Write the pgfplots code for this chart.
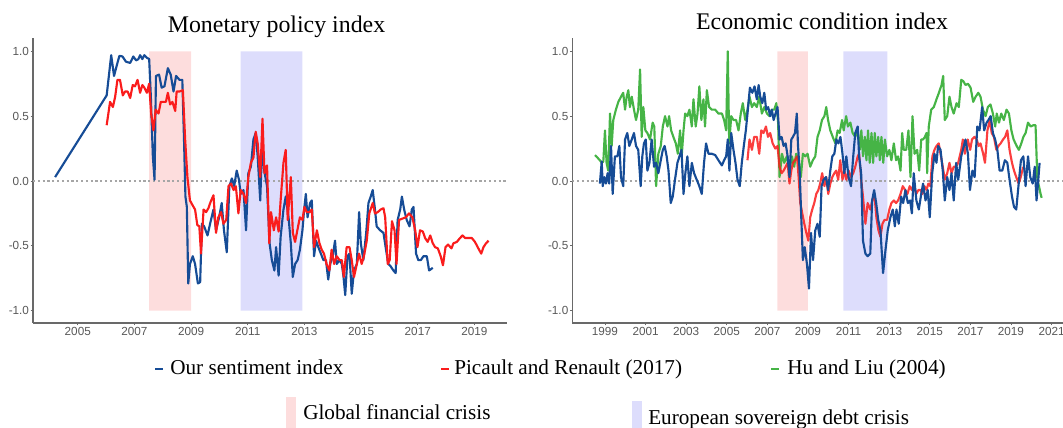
\documentclass[border=0pt]{standalone}
\usepackage{pgfplots}
\pgfplotsset{compat=1.18}
\usepackage{fontspec}
\setmainfont{Liberation Serif}
\newfontfamily\arialf{Liberation Sans}
\definecolor{cblue}{RGB}{22,76,150}
\definecolor{cred}{RGB}{250,28,28}
\definecolor{cgreen}{RGB}{70,180,70}
\definecolor{cpink}{RGB}{253,221,221}
\definecolor{clav}{RGB}{221,221,252}
\definecolor{axgray}{RGB}{105,105,105}
\definecolor{labgray}{RGB}{88,88,88}
\pgfplotsset{
  myaxis/.style={
    scale only axis,
    axis x line*=bottom, axis y line*=left,
    axis line style={draw=axgray, line width=0.95pt},
    tick style={draw=axgray, line width=0.6pt},
    tick align=outside, major tick length=1.8pt,
    tick label style={font=\arialf\fontsize{8.8}{10}\selectfont, text=labgray},
    ymin=-1.095, ymax=1.10,
    ytick={-1,-0.5,0,0.5,1}, yticklabels={-1.0,-0.5,0.0,0.5,1.0},
    yticklabel style={inner xsep=1pt},
    xticklabel style={inner ysep=1.6pt},
    height=213.5pt,
    every axis plot/.append style={line width=1.6pt, line join=round},
  }
}
\begin{document}
\begin{tikzpicture}
\useasboundingbox (0,0) rectangle (797.25pt,321pt);
% ---------------- Left: Monetary policy index
\begin{axis}[myaxis, at={(24.75pt,78.75pt)}, anchor=south west,
  width=355.5pt, xmin=2003.42, xmax=2020.15,
  xtick={2005,2007,2009,2011,2013,2015,2017,2019},
  xticklabels={2005,2007,2009,2011,2013,2015,2017,2019}]
\addplot[fill=cpink, draw=none, forget plot] coordinates {(2007.52,-1) (2009.0,-1) (2009.0,1) (2007.52,1)} \closedcycle;
\addplot[fill=clav, draw=none, forget plot] coordinates {(2010.75,-1) (2012.93,-1) (2012.93,1) (2010.75,1)} \closedcycle;
\addplot[gray!70, dotted, line width=0.8pt, forget plot] coordinates {(2003.42,0) (2020.15,0)};
\addplot[cblue] coordinates {
(2004.2,0.03) (2006.02,0.66) (2006.18,0.97) (2006.28,0.81) (2006.4,0.91) (2006.47,0.965) (2006.58,0.96) (2006.7,0.92) (2006.85,0.91) (2006.96,0.96) (2007.06,0.93) (2007.14,0.94) (2007.2,0.97) (2007.28,0.94) (2007.35,0.97) (2007.44,0.95) (2007.52,0.94) (2007.58,0.65) (2007.65,0.19) (2007.71,0.01) (2007.76,0.81) (2007.87,0.82) (2007.96,0.72) (2008.06,0.73) (2008.18,0.87) (2008.28,0.82) (2008.38,0.69) (2008.47,0.81) (2008.59,0.78) (2008.69,0.78) (2008.75,0.32) (2008.8,-0.12) (2008.85,-0.2) (2008.9,-0.79) (2008.96,-0.64) (2009.06,-0.58) (2009.14,-0.64) (2009.24,-0.79) (2009.32,-0.78) (2009.38,-0.33) (2009.46,-0.35) (2009.58,-0.42) (2009.67,-0.33) (2009.79,-0.22) (2009.88,-0.38) (2009.99,-0.28) (2010.08,-0.17) (2010.16,-0.38) (2010.26,-0.55) (2010.35,-0.04) (2010.44,0.02) (2010.52,-0.04) (2010.61,0.08) (2010.69,0.01) (2010.75,-0.1) (2010.85,-0.07) (2010.94,-0.38) (2011.02,0.06) (2011.11,0.11) (2011.2,0.32) (2011.28,0.37) (2011.35,0.19) (2011.44,-0.15) (2011.51,0.29) (2011.58,0.08) (2011.68,-0.04) (2011.77,-0.48) (2011.85,-0.61) (2011.94,-0.69) (2012.0,-0.51) (2012.09,-0.73) (2012.16,-0.43) (2012.26,-0.22) (2012.34,-0.12) (2012.44,-0.28) (2012.52,-0.48) (2012.59,-0.74) (2012.67,-0.64) (2012.76,-0.61) (2012.84,-0.53) (2012.93,-0.38) (2012.99,-0.22) (2013.05,-0.1) (2013.11,-0.28) (2013.2,-0.17) (2013.26,-0.15) (2013.34,-0.58) (2013.41,-0.46) (2013.49,-0.51) (2013.58,-0.56) (2013.67,-0.61) (2013.76,-0.61) (2013.84,-0.76) (2013.91,-0.64) (2014.0,-0.58) (2014.08,-0.46) (2014.14,-0.64) (2014.24,-0.61) (2014.32,-0.64) (2014.38,-0.74) (2014.44,-0.88) (2014.52,-0.58) (2014.59,-0.56) (2014.67,-0.87) (2014.75,-0.69) (2014.85,-0.64) (2014.93,-0.24) (2014.99,-0.48) (2015.08,-0.61) (2015.18,-0.40) (2015.26,-0.17) (2015.34,-0.12) (2015.41,-0.07) (2015.49,-0.22) (2015.55,-0.35) (2015.67,-0.38) (2015.79,-0.40) (2015.88,-0.53) (2015.96,-0.64) (2016.05,-0.66) (2016.14,-0.69) (2016.22,-0.71) (2016.29,-0.30) (2016.38,-0.22) (2016.44,-0.12) (2016.52,-0.22) (2016.61,-0.30) (2016.71,-0.35) (2016.79,-0.22) (2016.85,-0.2) (2016.94,-0.56) (2017.02,-0.61) (2017.11,-0.61) (2017.2,-0.58) (2017.32,-0.58) (2017.4,-0.69) (2017.53,-0.67)};
\addplot[cred] coordinates {
(2006.02,0.43) (2006.14,0.61) (2006.24,0.57) (2006.32,0.65) (2006.4,0.78) (2006.49,0.78) (2006.59,0.66) (2006.67,0.69) (2006.76,0.69) (2006.85,0.64) (2006.94,0.74) (2007.02,0.73) (2007.11,0.78) (2007.2,0.68) (2007.28,0.74) (2007.35,0.72) (2007.44,0.68) (2007.52,0.75) (2007.59,0.52) (2007.67,0.39) (2007.75,0.55) (2007.85,0.52) (2007.93,0.61) (2008.02,0.61) (2008.11,0.61) (2008.18,0.68) (2008.26,0.59) (2008.34,0.61) (2008.44,0.54) (2008.49,0.69) (2008.59,0.69) (2008.71,0.70) (2008.79,0.32) (2008.87,0.03) (2008.96,-0.15) (2009.06,-0.19) (2009.14,-0.22) (2009.22,-0.34) (2009.29,-0.35) (2009.35,-0.56) (2009.44,-0.22) (2009.53,-0.24) (2009.61,-0.21) (2009.69,-0.16) (2009.79,-0.11) (2009.88,-0.40) (2009.96,-0.28) (2010.06,-0.24) (2010.14,-0.33) (2010.24,-0.30) (2010.32,-0.04) (2010.41,-0.02) (2010.5,-0.07) (2010.58,-0.04) (2010.67,-0.25) (2010.75,-0.07) (2010.85,-0.10) (2010.94,-0.17) (2011.02,0.03) (2011.11,0.14) (2011.2,0.18) (2011.28,0.38) (2011.35,0.29) (2011.44,0.03) (2011.52,0.48) (2011.59,0.06) (2011.68,0.12) (2011.76,-0.48) (2011.82,-0.24) (2011.92,-0.38) (2012.0,-0.28) (2012.09,-0.39) (2012.16,-0.15) (2012.26,0.14) (2012.34,0.24) (2012.41,-0.30) (2012.52,0.03) (2012.59,-0.40) (2012.67,-0.47) (2012.75,-0.38) (2012.84,-0.28) (2012.93,-0.30) (2013.0,-0.20) (2013.08,-0.24) (2013.18,-0.24) (2013.26,-0.22) (2013.34,-0.51) (2013.44,-0.38) (2013.53,-0.48) (2013.61,-0.53) (2013.69,-0.56) (2013.78,-0.64) (2013.88,-0.69) (2013.96,-0.53) (2014.05,-0.64) (2014.14,-0.58) (2014.24,-0.61) (2014.32,-0.61) (2014.39,-0.74) (2014.49,-0.51) (2014.59,-0.51) (2014.67,-0.61) (2014.75,-0.74) (2014.85,-0.64) (2014.93,-0.56) (2015.02,-0.64) (2015.1,-0.58) (2015.2,-0.46) (2015.29,-0.25) (2015.41,-0.17) (2015.49,-0.25) (2015.59,-0.24) (2015.69,-0.22) (2015.79,-0.21) (2015.85,-0.28) (2015.94,-0.64) (2016.01,-0.61) (2016.09,-0.31) (2016.18,-0.38) (2016.25,-0.64) (2016.34,-0.30) (2016.46,-0.29) (2016.58,-0.28) (2016.69,-0.25) (2016.81,-0.28) (2016.91,-0.38) (2016.99,-0.51) (2017.08,-0.38) (2017.18,-0.39) (2017.26,-0.44) (2017.35,-0.47) (2017.44,-0.42) (2017.53,-0.48) (2017.61,-0.51) (2017.71,-0.52) (2017.81,-0.58) (2017.89,-0.65) (2017.98,-0.51) (2018.07,-0.49) (2018.19,-0.52) (2018.26,-0.48) (2018.38,-0.47) (2018.49,-0.44) (2018.58,-0.42) (2018.67,-0.44) (2018.79,-0.44) (2018.91,-0.44) (2019.02,-0.47) (2019.14,-0.52) (2019.24,-0.56) (2019.32,-0.51) (2019.41,-0.48) (2019.5,-0.46)};
\end{axis}
% ---------------- Right: Economic condition index
\begin{axis}[myaxis, at={(429.2pt,78.75pt)}, anchor=south west,
  width=368pt, xmin=1997.39, xmax=2021.56,
  xtick={1999,2001,2003,2005,2007,2009,2011,2013,2015,2017,2019,2021},
  xticklabels={1999,2001,2003,2005,2007,2009,2011,2013,2015,2017,2019,2021}]
\addplot[fill=cpink, draw=none, forget plot] coordinates {(2007.49,-1) (2008.99,-1) (2008.99,1) (2007.49,1)} \closedcycle;
\addplot[fill=clav, draw=none, forget plot] coordinates {(2010.74,-1) (2012.91,-1) (2012.91,1) (2010.74,1)} \closedcycle;
\addplot[gray!70, dotted, line width=0.8pt, forget plot] coordinates {(1997.39,0) (2021.56,0)};
\addplot[cgreen] coordinates {
(1998.51,0.20) (1998.75,0.16) (1998.84,0.14) (1998.92,0.15) (1999.0,0.39) (1999.08,0.14) (1999.16,0.08) (1999.25,0.52) (1999.33,0.27) (1999.41,0.47) (1999.54,0.55) (1999.66,0.61) (1999.79,0.65) (1999.9,0.68) (1999.99,0.55) (2000.07,0.65) (2000.15,0.70) (2000.23,0.57) (2000.32,0.65) (2000.43,0.55) (2000.53,0.47) (2000.64,0.55) (2000.73,0.86) (2000.81,0.34) (2000.89,0.57) (2000.99,0.39) (2001.09,0.37) (2001.22,0.32) (2001.35,0.45) (2001.43,0.42) (2001.52,-0.04) (2001.63,0.21) (2001.75,0.27) (2001.85,0.42) (2001.96,0.50) (2002.08,0.42) (2002.16,0.50) (2002.26,0.39) (2002.37,0.34) (2002.49,0.29) (2002.59,0.21) (2002.7,0.39) (2002.78,0.19) (2002.87,0.39) (2002.95,0.52) (2003.06,0.50) (2003.16,0.55) (2003.28,0.42) (2003.36,0.63) (2003.47,0.42) (2003.56,0.52) (2003.65,0.73) (2003.75,0.47) (2003.85,0.63) (2003.93,0.42) (2004.02,0.70) (2004.13,0.57) (2004.26,0.55) (2004.43,0.55) (2004.59,0.52) (2004.76,0.52) (2004.87,0.47) (2004.97,0.39) (2005.05,1.0) (2005.12,0.29) (2005.22,0.50) (2005.33,0.47) (2005.46,0.47) (2005.58,0.39) (2005.69,0.52) (2005.79,0.60) (2005.91,0.47) (2006.02,0.55) (2006.12,0.65) (2006.24,0.57) (2006.35,0.60) (2006.48,0.57) (2006.6,0.65) (2006.73,0.52) (2006.85,0.57) (2006.98,0.52) (2007.11,0.50) (2007.22,0.55) (2007.34,0.55) (2007.44,0.60) (2007.53,0.45) (2007.6,0.03) (2007.72,0.21) (2007.83,0.14) (2007.96,0.19) (2008.09,0.08) (2008.21,0.19) (2008.32,0.11) (2008.42,0.21) (2008.54,0.16) (2008.65,0.03) (2008.75,0.21) (2008.87,0.19) (2008.98,0.21) (2009.11,0.11) (2009.24,0.16) (2009.36,0.19) (2009.47,0.34) (2009.58,0.39) (2009.69,0.47) (2009.81,0.50) (2009.9,0.57) (2009.99,0.47) (2010.1,0.39) (2010.22,0.34) (2010.35,0.29) (2010.46,0.39) (2010.56,0.37) (2010.68,0.47) (2010.76,0.39) (2010.88,0.50) (2010.97,0.42) (2011.09,0.45) (2011.2,0.37) (2011.33,0.34) (2011.45,0.39) (2011.55,0.24) (2011.63,0.39) (2011.71,0.19) (2011.8,0.34) (2011.88,0.16) (2011.96,0.39) (2012.04,0.14) (2012.13,0.37) (2012.21,0.14) (2012.29,0.37) (2012.37,0.19) (2012.46,0.34) (2012.54,0.16) (2012.62,0.34) (2012.71,0.14) (2012.79,0.32) (2012.9,0.19) (2013.01,0.24) (2013.11,0.16) (2013.23,0.29) (2013.34,0.16) (2013.44,0.19) (2013.56,0.08) (2013.64,0.37) (2013.72,0.24) (2013.84,0.24) (2013.95,0.39) (2014.05,0.03) (2014.15,0.50) (2014.25,0.21) (2014.38,0.24) (2014.48,0.08) (2014.58,0.32) (2014.67,0.32) (2014.76,0.34) (2014.84,0.37) (2014.87,0.06) (2014.95,0.42) (2015.07,0.55) (2015.2,0.57) (2015.33,0.63) (2015.45,0.68) (2015.58,0.74) (2015.66,0.81) (2015.74,0.47) (2015.86,0.50) (2015.97,0.65) (2016.07,0.57) (2016.18,0.52) (2016.32,0.60) (2016.43,0.57) (2016.55,0.78) (2016.65,0.77) (2016.76,0.74) (2016.88,0.75) (2017.01,0.72) (2017.14,0.61) (2017.26,0.65) (2017.39,0.68) (2017.5,0.65) (2017.62,0.55) (2017.75,0.50) (2017.86,0.57) (2017.99,0.59) (2018.11,0.52) (2018.22,0.42) (2018.3,0.52) (2018.41,0.45) (2018.52,0.52) (2018.65,0.47) (2018.78,0.55) (2018.9,0.52) (2019.02,0.39) (2019.13,0.32) (2019.28,0.27) (2019.39,0.24) (2019.51,0.29) (2019.61,0.34) (2019.72,0.37) (2019.84,0.45) (2019.97,0.42) (2020.1,0.43) (2020.21,0.43) (2020.3,0.01) (2020.38,-0.04) (2020.46,-0.10) (2020.51,-0.13)};
\addplot[cred, opacity=0.85] coordinates {
(2006.02,0.16) (2006.12,0.32) (2006.24,0.24) (2006.35,0.34) (2006.48,0.34) (2006.6,0.21) (2006.7,0.39) (2006.81,0.37) (2006.93,0.42) (2007.03,0.34) (2007.14,0.37) (2007.26,0.29) (2007.39,0.25) (2007.5,0.27) (2007.6,0.11) (2007.7,0.06) (2007.8,0.08) (2007.9,0.11) (2008.0,0.14) (2008.09,-0.02) (2008.18,0.08) (2008.26,0.14) (2008.36,0.16) (2008.46,0.19) (2008.54,0.03) (2008.62,-0.17) (2008.72,-0.25) (2008.82,-0.33) (2008.92,-0.40) (2009.02,-0.46) (2009.11,-0.28) (2009.21,-0.22) (2009.31,-0.17) (2009.41,-0.10) (2009.51,-0.07) (2009.6,-0.02) (2009.7,0.06) (2009.81,-0.04) (2009.9,0.03) (2010.0,-0.10) (2010.1,-0.02) (2010.2,0.03) (2010.3,0.06) (2010.39,0.08) (2010.49,0.01) (2010.59,0.16) (2010.7,0.01) (2010.79,0.08) (2010.89,0.01) (2011.0,0.08) (2011.12,0.03) (2011.23,0.06) (2011.33,0.11) (2011.45,0.19) (2011.52,0.21) (2011.62,0.01) (2011.71,-0.12) (2011.83,-0.33) (2011.94,-0.17) (2012.07,-0.22) (2012.17,-0.15) (2012.27,-0.10) (2012.37,-0.28) (2012.47,-0.38) (2012.57,-0.43) (2012.67,-0.33) (2012.77,-0.30) (2012.9,-0.30) (2013.01,-0.22) (2013.11,-0.17) (2013.23,-0.15) (2013.34,-0.17) (2013.44,-0.15) (2013.56,-0.10) (2013.67,-0.04) (2013.79,-0.07) (2013.9,-0.10) (2014.01,-0.04) (2014.12,-0.07) (2014.21,-0.02) (2014.33,-0.10) (2014.44,-0.07) (2014.54,-0.07) (2014.64,-0.10) (2014.74,-0.04) (2014.84,-0.07) (2014.93,-0.02) (2015.03,-0.04) (2015.13,0.19) (2015.23,0.24) (2015.33,0.27) (2015.44,0.29) (2015.53,0.21) (2015.64,0.11) (2015.74,0.01) (2015.86,0.06) (2015.97,0.14) (2016.07,0.06) (2016.18,0.11) (2016.3,0.11) (2016.4,0.14) (2016.55,0.24) (2016.63,0.32) (2016.73,0.21) (2016.87,0.32) (2016.99,0.24) (2017.08,0.32) (2017.2,0.34) (2017.31,0.32) (2017.41,0.27) (2017.5,0.29) (2017.63,0.21) (2017.72,0.14) (2017.84,0.39) (2017.96,0.47) (2018.05,0.37) (2018.16,0.34) (2018.28,0.24) (2018.38,0.27) (2018.49,0.29) (2018.61,0.32) (2018.71,0.34) (2018.82,0.39) (2018.93,0.24) (2019.05,0.14) (2019.15,0.08) (2019.26,0.03) (2019.38,-0.02) (2019.48,0.03) (2019.61,0.11)};
\addplot[cblue] coordinates {
(1998.75,-0.02) (1998.84,0.15) (1998.89,-0.04) (1998.97,0.03) (1999.05,-0.02) (1999.13,0.06) (1999.21,-0.02) (1999.3,0.27) (1999.38,-0.10) (1999.49,0.19) (1999.61,0.19) (1999.71,0.27) (1999.79,0.03) (1999.9,-0.04) (1999.99,0.32) (2000.1,0.37) (2000.2,0.27) (2000.32,0.32) (2000.43,0.37) (2000.53,0.27) (2000.64,0.24) (2000.76,-0.04) (2000.84,0.19) (2000.92,0.29) (2001.01,0.32) (2001.09,0.08) (2001.19,0.14) (2001.3,0.32) (2001.42,0.11) (2001.52,0.14) (2001.63,0.06) (2001.75,0.16) (2001.85,0.24) (2001.94,0.27) (2002.04,0.19) (2002.13,0.08) (2002.24,-0.17) (2002.34,-0.12) (2002.45,0.01) (2002.57,0.14) (2002.67,0.19) (2002.77,0.24) (2002.87,-0.10) (2002.96,0.06) (2003.06,0.19) (2003.16,-0.04) (2003.28,0.14) (2003.39,0.06) (2003.52,0.01) (2003.65,-0.04) (2003.77,-0.10) (2003.88,0.14) (2003.98,0.29) (2004.1,0.21) (2004.26,0.21) (2004.43,0.20) (2004.59,0.16) (2004.76,0.12) (2004.87,0.16) (2004.97,0.19) (2005.05,0.32) (2005.13,0.08) (2005.22,0.37) (2005.33,0.24) (2005.43,0.14) (2005.53,0.01) (2005.64,-0.04) (2005.74,0.14) (2005.84,0.27) (2005.94,0.39) (2006.04,0.55) (2006.14,0.72) (2006.26,0.68) (2006.37,0.73) (2006.48,0.63) (2006.57,0.74) (2006.65,0.65) (2006.75,0.60) (2006.85,0.68) (2006.94,0.55) (2007.04,0.57) (2007.14,0.50) (2007.22,0.55) (2007.31,0.47) (2007.4,0.52) (2007.5,0.57) (2007.6,0.32) (2007.7,0.34) (2007.8,0.27) (2007.9,0.29) (2008.0,0.19) (2008.09,0.03) (2008.18,0.32) (2008.26,0.34) (2008.36,0.37) (2008.45,0.52) (2008.51,0.27) (2008.59,0.08) (2008.67,-0.28) (2008.75,-0.61) (2008.84,-0.51) (2008.95,-0.64) (2009.05,-0.83) (2009.15,-0.40) (2009.25,-0.61) (2009.36,-0.38) (2009.47,-0.33) (2009.58,-0.43) (2009.67,-0.04) (2009.77,0.01) (2009.89,0.03) (2009.99,-0.07) (2010.1,0.08) (2010.2,0.19) (2010.3,0.21) (2010.4,0.32) (2010.5,0.29) (2010.6,0.34) (2010.7,0.21) (2010.79,0.06) (2010.89,0.19) (2011.0,0.03) (2011.12,-0.04) (2011.23,0.19) (2011.33,0.37) (2011.45,0.42) (2011.52,0.19) (2011.62,0.06) (2011.71,-0.46) (2011.83,-0.56) (2011.94,-0.58) (2012.07,-0.56) (2012.16,-0.15) (2012.26,-0.07) (2012.36,-0.17) (2012.46,-0.30) (2012.57,-0.38) (2012.7,-0.71) (2012.82,-0.53) (2012.93,-0.38) (2013.06,-0.28) (2013.18,-0.22) (2013.28,-0.35) (2013.36,-0.22) (2013.47,-0.33) (2013.59,-0.12) (2013.69,-0.17) (2013.8,-0.07) (2013.92,-0.17) (2014.03,-0.15) (2014.12,-0.25) (2014.21,0.06) (2014.34,-0.15) (2014.46,-0.22) (2014.58,-0.10) (2014.67,-0.02) (2014.79,-0.15) (2014.9,-0.07) (2015.0,-0.28) (2015.12,0.06) (2015.23,0.21) (2015.33,0.14) (2015.41,0.27) (2015.53,0.24) (2015.64,0.08) (2015.74,-0.15) (2015.86,0.03) (2015.97,-0.07) (2016.07,0.06) (2016.18,-0.15) (2016.3,0.14) (2016.4,0.01) (2016.55,0.19) (2016.63,0.24) (2016.76,0.32) (2016.88,0.21) (2016.98,-0.07) (2017.1,0.08) (2017.21,0.03) (2017.34,0.42) (2017.45,0.39) (2017.58,0.57) (2017.68,0.39) (2017.8,0.45) (2017.89,0.47) (2018.0,0.50) (2018.11,0.37) (2018.22,0.32) (2018.33,0.24) (2018.44,0.08) (2018.57,0.08) (2018.7,0.16) (2018.82,0.14) (2018.93,0.01) (2019.05,-0.12) (2019.15,-0.20) (2019.26,-0.22) (2019.38,-0.02) (2019.49,0.16) (2019.61,0.19) (2019.72,-0.04) (2019.84,0.19) (2019.95,0.03) (2020.07,-0.02) (2020.17,0.11) (2020.26,-0.15) (2020.33,-0.02) (2020.41,0.14)};
\end{axis}
% ---------------- Titles
\node[anchor=base, inner sep=0, font=\fontsize{17.9}{20}\selectfont] at (207.4pt,296.25pt) {Monetary policy index};
\node[anchor=base, inner sep=0, font=\fontsize{17.9}{20}\selectfont] at (616.5pt,298.5pt) {Economic condition index};
% ---------------- Legend
\draw[cblue, line width=2.2pt] (116.25pt,44.25pt) -- (122.25pt,44.25pt);
\node[anchor=base west, inner sep=0, font=\fontsize{15.9}{18}\selectfont] at (127.5pt,39.75pt) {Our sentiment index};
\draw[cred, line width=2.2pt] (330.75pt,44.25pt) -- (336.75pt,44.25pt);
\node[anchor=base west, inner sep=0, font=\fontsize{15.9}{18}\selectfont] at (340.5pt,39.75pt) {Picault and Renault (2017)};
\draw[cgreen, line width=2.2pt] (578.25pt,44.25pt) -- (584.25pt,44.25pt);
\node[anchor=base west, inner sep=0, font=\fontsize{15.9}{18}\selectfont] at (590.25pt,39.75pt) {Hu and Liu (2004)};
\fill[cpink] (214.5pt,0pt) rectangle (222pt,23.25pt);
\node[anchor=base west, inner sep=0, font=\fontsize{15.9}{18}\selectfont] at (227.25pt,6pt) {Global financial crisis};
\fill[clav] (474pt,0pt) rectangle (481.5pt,20.25pt);
\node[anchor=base west, inner sep=0, font=\fontsize{15.9}{18}\selectfont] at (486pt,2.25pt) {European sovereign debt crisis};
\end{tikzpicture}
\end{document}
